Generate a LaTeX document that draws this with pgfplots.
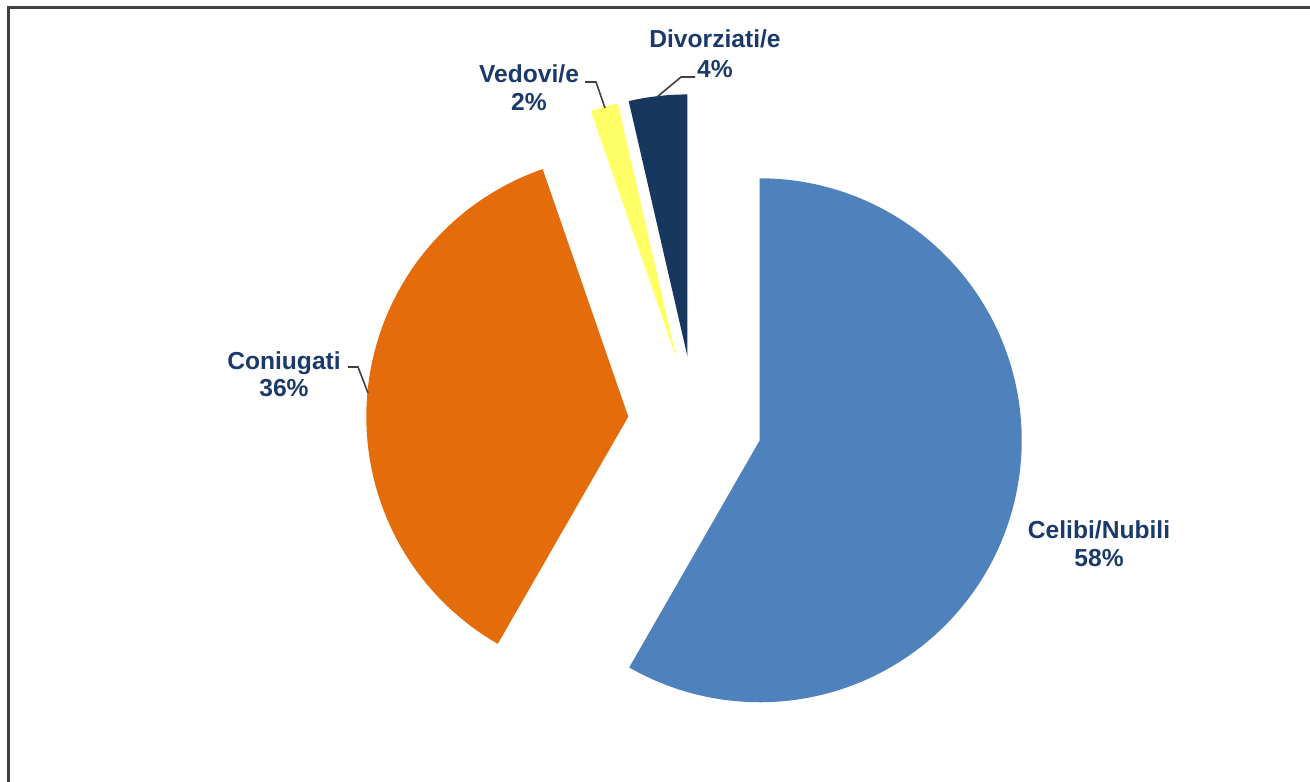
\documentclass[border=0pt]{standalone}
\usepackage{pgfplots}
\pgfplotsset{compat=1.18}
\usepackage{pgfplotstable}
\usepackage{fontspec}
\setmainfont{Liberation Sans}

\definecolor{cCel}{HTML}{4F81BD}
\definecolor{cCon}{HTML}{E46C0A}
\definecolor{cVed}{HTML}{FFFF66}
\definecolor{cDiv}{HTML}{17375E}
\definecolor{cTxt}{HTML}{1B3A6B}
\definecolor{cLead}{HTML}{404040}

% share of each group (percent)
\pgfplotstableread{
label value
Celibi 58.3
Coniugati 36.4
Vedovi 1.7
Divorziati 3.6
}\piedata

\pgfplotstablegetelem{0}{value}\of\piedata \let\vA\pgfplotsretval
\pgfplotstablegetelem{1}{value}\of\piedata \let\vB\pgfplotsretval
\pgfplotstablegetelem{2}{value}\of\piedata \let\vC\pgfplotsretval
\pgfplotstablegetelem{3}{value}\of\piedata \let\vD\pgfplotsretval

\pgfmathsetmacro\aA{0}
\pgfmathsetmacro\aB{\aA+3.6*\vA}
\pgfmathsetmacro\aC{\aB+3.6*\vB}
\pgfmathsetmacro\aD{\aC+3.6*\vC}
\pgfmathsetmacro\aE{\aD+3.6*\vD}

% pie centre (px), explode distance, radius
\def\pcx{695}\def\pcy{423}\def\pex{67}\def\pr{262}

\newcommand\slice[3]{%
  \pgfmathsetmacro\smid{(#1+#2)/2}%
  \pgfmathsetmacro\scx{\pcx+\pex*sin(\smid)}%
  \pgfmathsetmacro\scy{\pcy-\pex*cos(\smid)}%
  \edef\stemp{\noexpand\addplot[fill=#3, draw=none, domain=#1:#2, samples=140, variable=\noexpand\t]
    ({\scx+\pr*sin(\noexpand\t)},{\scy-\pr*cos(\noexpand\t)}) -- (axis cs:\scx,\scy) -- cycle;}%
  \stemp
}

\begin{document}
\begin{tikzpicture}
\begin{axis}[at={(0,0)}, anchor=south west, scale only axis,
  width=655pt, height=390.5pt,
  xmin=0, xmax=1310, ymin=0, ymax=781, y dir=reverse,
  hide axis, clip=false]

\draw[line width=1.5pt, cLead] (axis cs:8,800) -- (axis cs:8,8) -- (axis cs:1320,8);

\slice{\aA}{\aB}{cCel}
\slice{\aB}{\aC}{cCon}
\slice{\aC}{\aD}{cVed}
\slice{\aD}{\aE}{cDiv}

% leader lines
\draw[cLead, line width=0.8pt] (axis cs:657,97) -- (axis cs:681,77) -- (axis cs:695,77);
\draw[cLead, line width=0.8pt] (axis cs:585,82) -- (axis cs:596,82) -- (axis cs:605,108);
\draw[cLead, line width=0.8pt] (axis cs:348,367) -- (axis cs:358,367) -- (axis cs:368,393);

\tikzset{lab/.style={anchor=base, inner sep=0pt, text=cTxt, font=\fontsize{12.3}{14}\selectfont\bfseries}}
\node[lab] at (axis cs:715,48) {Divorziati/e};
\node[lab] at (axis cs:715,77) {4\%};
\node[lab] at (axis cs:529,83) {Vedovi/e};
\node[lab] at (axis cs:529,111) {2\%};
\node[lab] at (axis cs:284,369) {Coniugati};
\node[lab] at (axis cs:284,396) {36\%};
\node[lab] at (axis cs:1099,538) {Celibi/Nubili};
\node[lab] at (axis cs:1099,566) {58\%};
\end{axis}
\pgfresetboundingbox
\path (0,0) rectangle (655pt,390.5pt);
\end{tikzpicture}
\end{document}
